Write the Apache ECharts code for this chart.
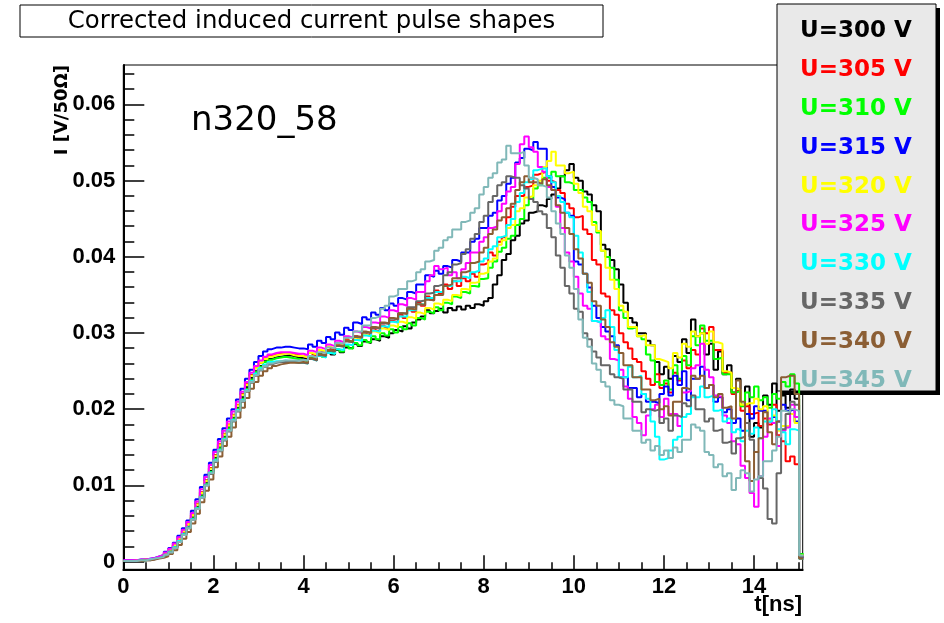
<!DOCTYPE html>
<html><head><meta charset="utf-8">
<script src="https://cdn.jsdelivr.net/npm/echarts@6/dist/echarts.min.js"></script>
<style>html,body{margin:0;padding:0;background:#fff}#c{width:944px;height:623px}</style>
</head><body><div id="c"></div>
<script>
// Histogram bin contents in units of 1e-4 V/50Ohm, bin width 0.1 ns, starting at t = 0
const s300 = [1,1,1,2,2,3,4,5,7,10, 14,20,28,37,46,58,72,87,103,119, 136,150,164,176,189,202,216,229,241,250, 257,263,266,268,269,270,271,270,268,267, 266,270,268,273,270,275,272,278,275,281, 280,286,283,289,287,292,290,296,294,300, 304,302,309,306,314,318,322,330,326,329, 332,327,333,330,335,331,336,333,338,336, 342,346,364,376,396,404,422,428,444,448, 458,460,468,466,476,482,490,506,514,522, 504,500,486,482,468,460,416,410,396,384, 364,340,320,314,300,300,290,284,262,246, 256,240,270,262,292,274,318,296,300,272, 286,252,276,246,258,222,240,206,230,164, 182,176,218,206,234,198,218,202,226,214, 8];
const s305 = [1,1,2,2,3,3,4,6,8,11, 15,22,30,40,49,61,76,91,107,123, 140,154,168,180,193,206,220,233,245,254, 261,267,270,272,273,274,274,272,271,270, 268,274,271,278,275,282,279,287,284,292, 289,296,293,301,298,306,303,310,307,316, 314,324,320,332,328,340,336,348,344,356, 352,364,358,368,362,372,368,378,374,390, 392,406,402,420,426,452,466,480,480,492, 494,508,510,512,500,498,488,484,470,464, 452,454,436,430,396,390,352,348,330,324, 300,288,280,266,262,250,240,232,246,228, 234,222,248,238,264,254,278,272,306,300, 308,278,278,248,248,220,224,198,204,194, 196,178,188,180,206,166,158,132,138,128, 6];
const s310 = [1,1,1,2,2,3,4,5,7,9, 13,19,27,36,45,57,71,86,102,118, 135,149,163,175,188,201,214,227,239,249, 256,262,265,267,268,269,268,267,266,265, 263,268,266,272,269,275,273,279,276,283, 280,287,284,291,288,296,292,300,297,305, 301,308,305,313,310,320,318,328,326,334, 330,340,338,348,346,354,352,362,361,371, 372,386,394,407,412,424,428,442,450,468, 476,490,494,504,504,512,506,506,498,496, 488,488,478,472,446,432,408,400,386,370, 330,320,306,308,296,292,272,264,236,232, 238,226,258,240,270,258,296,284,310,290, 290,266,268,246,246,222,224,204,222,216, 230,212,216,202,220,214,236,230,246,234, 10];
const s315 = [2,2,2,3,3,4,5,7,9,13, 18,25,34,44,54,67,82,98,114,130, 147,161,175,188,200,213,227,240,252,262, 270,276,279,281,281,282,282,281,280,280, 279,285,282,290,287,295,292,301,298,307, 304,314,312,321,318,327,324,333,330,339, 336,346,344,354,352,364,364,376,374,382, 378,388,386,396,394,406,406,420,424,438, 438,454,458,474,480,496,504,524,530,542, 540,551,542,542,506,492,478,476,458,454, 394,390,378,360,336,320,308,302,296,284, 242,242,228,228,216,220,210,210,208,220, 230,218,244,232,250,212,240,240,256,228, 232,210,216,196,200,182,188,172,194,188, 204,198,198,184,190,184,206,198,200,184, 6];
const s320 = [1,1,2,2,3,3,4,6,8,11, 16,22,30,40,49,61,75,90,106,122, 139,153,167,179,192,205,219,232,244,254, 261,266,269,271,272,273,273,271,270,270, 268,274,272,278,276,282,280,286,284,290, 288,294,292,298,296,302,300,306,304,310, 308,315,313,321,319,327,325,333,331,339, 337,344,342,350,349,358,357,366,367,378, 380,394,398,416,422,438,442,460,464,478, 480,494,500,518,526,538,520,520,510,512, 496,484,466,460,442,434,408,386,370,358, 336,328,308,308,296,298,284,284,266,264, 262,254,274,268,286,282,302,296,300,286, 302,288,286,250,248,228,226,206,208,208, 214,200,204,186,192,172,178,178,194,182, 8];
const s325 = [2,2,2,3,3,4,5,7,9,12, 17,24,32,42,52,64,79,95,111,127, 144,158,172,184,197,210,223,236,248,257, 264,269,272,274,275,275,275,274,273,273, 271,277,275,281,279,285,283,290,288,296, 294,302,300,308,306,314,313,322,320,330, 328,338,336,346,344,354,354,368,376,388, 384,386,376,380,372,384,392,406,406,420, 426,438,440,460,470,486,492,522,548,558, 544,538,518,512,492,488,466,438,406,394, 374,352,336,332,316,314,296,292,266,264, 252,230,214,190,182,166,192,200,206,190, 214,194,194,178,222,224,254,258,286,252, 242,218,216,192,182,158,154,126,110,90, 72,112,164,188,182,152,172,176,206,190, 6];
const s330 = [1,1,1,2,2,3,4,5,7,9, 13,19,27,36,45,56,70,85,101,117, 133,147,161,173,186,199,212,225,237,247, 254,259,262,263,263,264,263,262,261,261, 260,266,264,270,268,274,273,279,278,285, 284,291,290,297,296,303,302,309,308,315, 314,322,322,330,330,338,338,346,346,354, 354,362,362,368,368,374,372,380,382,394, 398,410,414,426,428,442,450,472,484,498, 502,514,516,516,506,498,480,472,458,452, 428,406,378,354,316,314,320,330,308,278, 242,242,256,242,244,220,214,184,164,134, 136,146,160,164,190,194,216,216,230,216, 218,198,200,184,188,170,174,158,172,168, 176,162,184,184,200,174,170,154,174,172, 4];
const s335 = [1,1,1,2,2,2,3,5,6,9, 12,18,26,35,44,55,69,84,100,115, 131,145,159,171,184,197,210,223,235,244, 251,256,259,261,262,262,262,262,261,261, 260,266,264,271,270,277,276,283,282,289, 288,295,294,301,300,307,306,313,312,319, 318,326,326,334,334,342,343,352,353,362, 364,376,380,390,392,404,410,424,430,446, 454,472,480,494,498,506,504,504,494,490, 476,472,460,456,438,426,402,386,362,352, 332,328,300,292,276,268,258,258,246,242, 240,226,226,210,210,196,200,198,200,182, 188,172,192,190,208,204,218,200,200,184, 188,172,174,156,158,142,162,164,182,160, 144,110,96,56,50,116,174,194,210,206, 6];
const s340 = [1,1,1,1,2,2,3,4,5,7, 10,15,22,30,39,50,63,78,93,108, 124,138,152,164,176,189,202,215,227,236, 244,250,254,257,259,260,261,261,261,262, 261,267,265,272,271,278,277,284,283,290, 289,296,295,302,301,308,307,314,313,320, 319,326,325,332,331,338,337,344,343,350, 350,362,364,372,372,380,382,392,394,406, 412,430,436,448,452,464,470,488,498,506, 498,498,496,502,494,488,468,458,438,430, 410,398,378,366,342,336,318,308,288,282, 274,258,258,242,242,226,226,212,214,200, 204,192,210,210,228,226,244,240,244,228, 232,216,220,202,204,188,238,210,132,106, 144,162,196,170,154,184,242,244,244,220, 4];
const s345 = [1,1,1,2,2,3,4,5,6,9, 12,18,26,35,44,55,69,84,100,116, 132,146,160,172,185,198,211,224,236,245, 252,257,260,262,263,264,264,264,264,265, 264,270,268,275,274,281,280,287,286,294, 294,302,302,310,310,320,322,332,336,348, 350,358,358,368,370,380,384,394,396,408, 412,422,426,436,436,446,448,458,464,482, 492,504,510,524,528,546,536,536,538,520, 504,502,494,492,478,460,444,430,402,386, 358,318,294,282,260,252,236,230,212,206, 204,188,188,172,172,156,160,146,152,140, 146,136,150,144,160,160,180,176,172,144, 140,124,128,112,116,94,110,120,116,92, 108,112,132,132,146,164,198,196,200,198, 8];

const seriesNames = ['U=300 V','U=305 V','U=310 V','U=315 V','U=320 V','U=325 V','U=330 V','U=335 V','U=340 V','U=345 V'];
const seriesColors = ['#000000','#ff0000','#00ff00','#0000ff','#ffff00','#ff00ff','#00ffff','#666666','#8b5e34','#80b8b8'];
const seriesValues = [s300,s305,s310,s315,s320,s325,s330,s335,s340,s345];
const BIN = 0.1, UNIT = 1e-4;

const titleText = 'Corrected induced current pulse shapes';
const sampleText = 'n320_58';
const xTitle = 't[ns]';
const yTitle = 'I [V/50\u03A9]';

function toData(arr){
  const d = arr.map((v,i)=>[+(i*BIN).toFixed(2), v*UNIT]);
  d.push([+(arr.length*BIN).toFixed(2), arr[arr.length-1]*UNIT]);
  return d;
}

const chart = echarts.init(document.getElementById('c'));
const legendGraphics = [
  {type:'rect', shape:{x:781,y:8,width:159,height:387}, style:{fill:'#000'}, z:1, z2:0},
  {type:'rect', shape:{x:777,y:4,width:159,height:387}, style:{fill:'#e9e9e9', stroke:'#000', lineWidth:1}, z:1, z2:1}
];
seriesNames.forEach((n,i)=>{
  legendGraphics.push({type:'text', x:856, y:31+i*38.9, z:1, z2:2,
    style:{text:n, fill:seriesColors[i], font:'bold 23px "DejaVu Sans"', align:'center', verticalAlign:'middle'}});
});

const tickCol = '#000';
const option = {
  animation:false,
  backgroundColor:'#fff',
  grid:[
    {left:123.3, right:141.3, top:65, bottom:53.7, show:true, borderColor:'#000', borderWidth:1, backgroundColor:'transparent'},
    {left:123.3, right:144.95, top:73.82, bottom:61.5},
    {left:123.3, right:190, top:104.3, bottom:61.5}
  ],
  xAxis:[
    {gridIndex:0, type:'value', min:0, max:15.08, axisLine:{show:true,onZero:false,lineStyle:{color:'#000',width:2}}, axisTick:{show:false}, axisLabel:{show:false}, splitLine:{show:false}},
    {gridIndex:1, type:'value', min:0, max:15, interval:0.5, offset:7.8, axisLine:{show:false,onZero:false}, axisTick:{show:true,inside:true,length:7,lineStyle:{color:tickCol,width:1.5}}, axisLabel:{show:false}, splitLine:{show:false}},
    {gridIndex:2, type:'value', min:0, max:14, interval:2, offset:7.8, axisLine:{show:false,onZero:false}, axisTick:{show:true,inside:true,length:14,lineStyle:{color:tickCol,width:1.5}},
      axisLabel:{show:true, color:'#000', fontFamily:'Liberation Sans', fontWeight:'bold', fontSize:22, margin:7}, splitLine:{show:false}}
  ],
  yAxis:[
    {gridIndex:0, type:'value', min:-0.001, max:0.0652, axisLine:{show:true,onZero:false,lineStyle:{color:'#000',width:2}}, axisTick:{show:false}, axisLabel:{show:false}, splitLine:{show:false}},
    {gridIndex:1, type:'value', min:0, max:0.064, interval:0.002, axisLine:{show:false,onZero:false}, axisTick:{show:true,inside:true,length:11,lineStyle:{color:tickCol,width:1.5}}, axisLabel:{show:false}, splitLine:{show:false}},
    {gridIndex:2, type:'value', min:0, max:0.06, interval:0.01, axisLine:{show:false,onZero:false}, axisTick:{show:true,inside:true,length:21,lineStyle:{color:tickCol,width:1.5}},
      axisLabel:{show:true, color:'#000', fontFamily:'Liberation Sans', fontWeight:'bold', fontSize:22, margin:8, formatter:v=> v===0?'0':v.toFixed(2)}, splitLine:{show:false}}
  ],
  series: seriesValues.map((arr,i)=>({
    name:seriesNames[i], type:'line', xAxisIndex:0, yAxisIndex:0, step:'end', symbol:'none',
    data:toData(arr), lineStyle:{color:seriesColors[i], width:2}, itemStyle:{color:seriesColors[i]},
    z:3, clip:true, silent:true
  })),
  graphic:[
    {type:'rect', shape:{x:20,y:5,width:583,height:32}, style:{fill:'#fff', stroke:'#000', lineWidth:1}},
    {type:'text', x:311.5, y:21.5, style:{text:titleText, font:'24.4px "DejaVu Sans"', fill:'#000', align:'center', verticalAlign:'middle'}},
    {type:'text', x:191, y:121, z:4, style:{text:sampleText, font:'34px "DejaVu Sans"', fill:'#000', align:'left', verticalAlign:'middle'}},
    {type:'text', x:802, y:605, style:{text:xTitle, font:'bold 22px "Liberation Sans"', fill:'#000', align:'right', verticalAlign:'middle'}},
    {type:'text', x:62, y:65, rotation:Math.PI/2, style:{text:yTitle, font:'bold 18px "DejaVu Sans"', fill:'#000', align:'right', verticalAlign:'middle'}}
  ].concat(legendGraphics)
};
chart.setOption(option);
</script>
</body></html>
